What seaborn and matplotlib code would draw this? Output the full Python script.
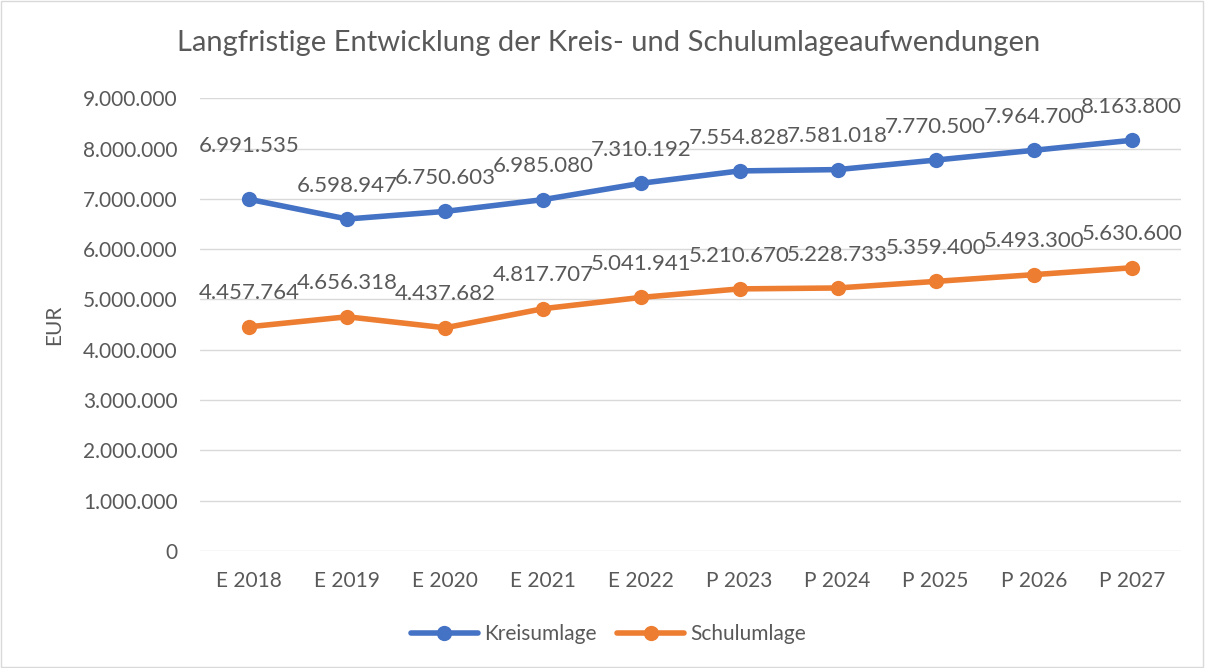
import matplotlib
matplotlib.use("Agg")
import matplotlib.pyplot as plt
import seaborn as sns
import pandas as pd
from matplotlib.patches import Rectangle

categories = ["E 2018", "E 2019", "E 2020", "E 2021", "E 2022", "P 2023", "P 2024", "P 2025", "P 2026", "P 2027"]
kreisumlage = [6991535, 6598947, 6750603, 6985080, 7310192, 7554828, 7581018, 7770500, 7964700, 8163800]
schulumlage = [4457764, 4656318, 4437682, 4817707, 5041941, 5210670, 5228733, 5359400, 5493300, 5630600]
series_names = ["Kreisumlage", "Schulumlage"]
colors = ["#4472C4", "#ED7D31"]

sns.set_theme(style="white")
plt.rcParams['font.family'] = ['Lato', 'DejaVu Sans']
text_color = "#595959"

df = pd.DataFrame({
    "Jahr": categories * 2,
    "Wert": kreisumlage + schulumlage,
    "Reihe": [series_names[0]] * len(categories) + [series_names[1]] * len(categories),
})
df["x"] = list(range(len(categories))) * 2

fig = plt.figure(figsize=(12.05, 6.68), dpi=100)
ax = fig.add_axes([0.166, 0.175, 0.814, 0.678])

sns.lineplot(data=df, x="x", y="Wert", hue="Reihe", palette=colors, marker="o",
             markersize=11, linewidth=4, markeredgewidth=0, ax=ax, legend=True)

def fmt(v):
    return f"{v:,.0f}".replace(",", ".")

for vals in (kreisumlage, schulumlage):
    for i, v in enumerate(vals):
        off = 24
        if vals is kreisumlage and i == 0:
            off = 38
        ax.annotate(fmt(v), (i, v), xytext=(0, off), textcoords="offset points",
                    ha="center", va="center", fontsize=16, color=text_color)

ax.set_xlim(-0.5, len(categories) - 0.5)
ax.set_ylim(0, 9000000)
ax.set_yticks(range(0, 9000001, 1000000))
ax.set_yticklabels([fmt(v) for v in range(0, 9000001, 1000000)])
ax.set_xticks(range(len(categories)))
ax.set_xticklabels(categories)
ax.tick_params(axis="both", labelsize=15, colors=text_color, length=0)
ax.tick_params(axis="y", pad=16)
ax.tick_params(axis="x", pad=14)
ax.yaxis.grid(True, color="#D9D9D9", linewidth=1)
ax.set_axisbelow(True)
for s in ax.spines.values():
    s.set_visible(False)
ax.set_xlabel("")
ax.set_ylabel("EUR", fontsize=15, color=text_color, labelpad=14)

fig.suptitle("Langfristige Entwicklung der Kreis- und Schulumlageaufwendungen",
             x=0.505, y=0.955, fontsize=21, color=text_color)

h, l = ax.get_legend_handles_labels()
ax.legend(h, l, loc="center", frameon=False,
          ncol=2, fontsize=15, labelcolor=text_color, handlelength=3.2,
          columnspacing=1.0, handletextpad=0.3)
leg = ax.get_legend()
leg.set_bbox_to_anchor((0.505, 1 - 634 / 668), transform=fig.transFigure)

fig.patches.append(Rectangle((0.001, 0.001), 0.997, 0.997, transform=fig.transFigure,
                             fill=False, edgecolor="#D9D9D9", linewidth=1))

fig.savefig("out.png", dpi=100, facecolor="white")
